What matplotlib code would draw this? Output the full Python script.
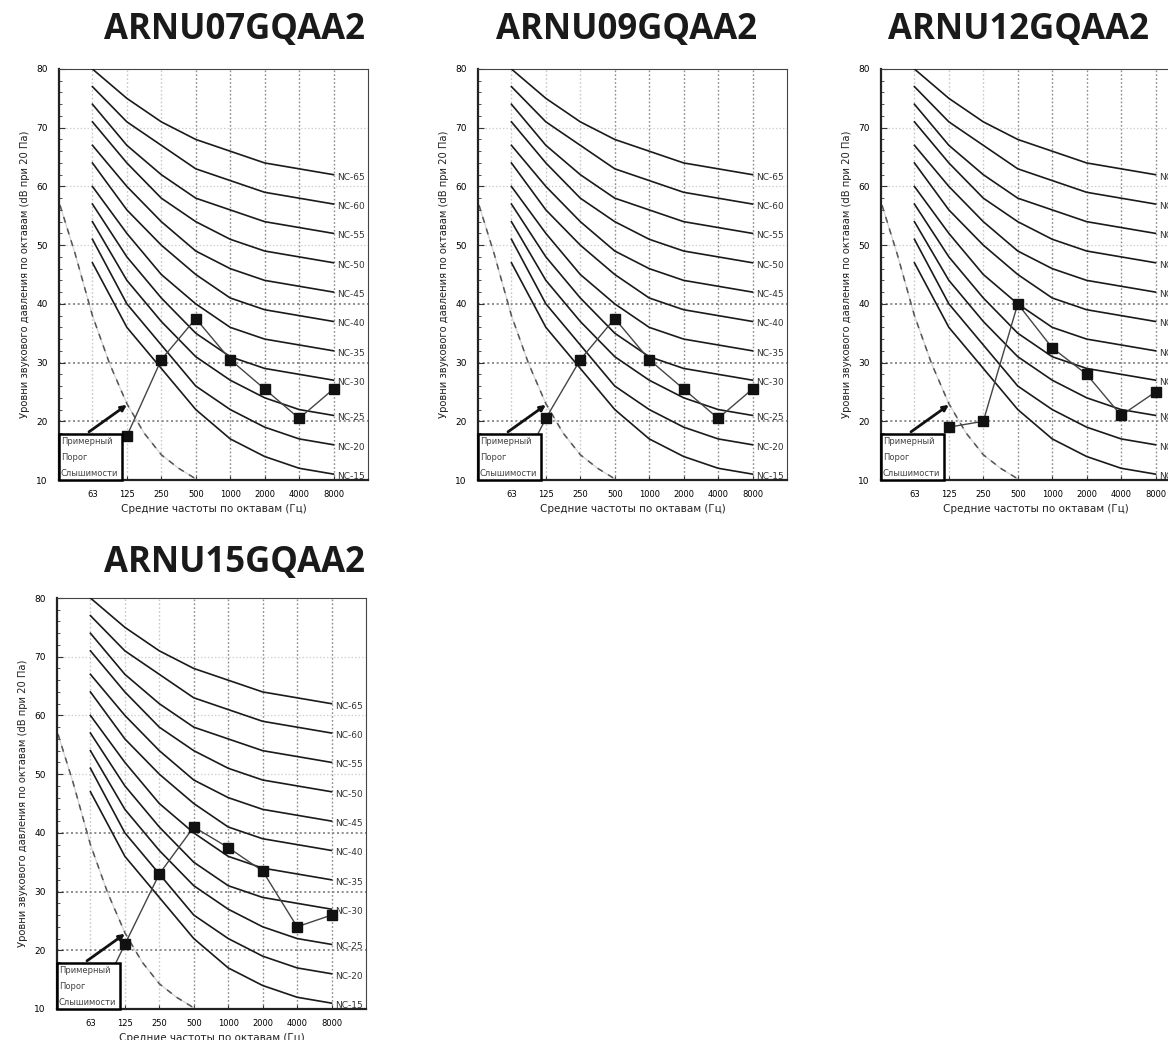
import numpy as np
import matplotlib
matplotlib.use("Agg")
import matplotlib.pyplot as plt
from matplotlib.patches import Rectangle

plt.rcParams['font.family'] = ['Liberation Sans Narrow', 'DejaVu Sans']

# Данные
freqs = ["63", "125", "250", "500", "1000", "2000", "4000", "8000"]
nc_names = ["NC-15", "NC-20", "NC-25", "NC-30", "NC-35", "NC-40",
            "NC-45", "NC-50", "NC-55", "NC-60", "NC-65"]
nc_15 = [47, 36, 29, 22, 17, 14, 12, 11]
nc_20 = [51, 40, 33, 26, 22, 19, 17, 16]
nc_25 = [54, 44, 37, 31, 27, 24, 22, 21]
nc_30 = [57, 48, 41, 35, 31, 29, 28, 27]
nc_35 = [60, 52, 45, 40, 36, 34, 33, 32]
nc_40 = [64, 56, 50, 45, 41, 39, 38, 37]
nc_45 = [67, 60, 54, 49, 46, 44, 43, 42]
nc_50 = [71, 64, 58, 54, 51, 49, 48, 47]
nc_55 = [74, 67, 62, 58, 56, 54, 53, 52]
nc_60 = [77, 71, 67, 63, 61, 59, 58, 57]
nc_65 = [80, 75, 71, 68, 66, 64, 63, 62]
nc_curves = [nc_15, nc_20, nc_25, nc_30, nc_35, nc_40, nc_45, nc_50, nc_55, nc_60, nc_65]

# порог слышимости (позиция октавы, dB)
threshold_x = [-0.94, -0.5, 0, 0.5, 1, 1.5, 2, 2.5, 3]
threshold_y = [56.8, 48.5, 38, 29.8, 23, 18, 14.3, 12, 10.2]

models = ["ARNU07GQAA2", "ARNU09GQAA2", "ARNU12GQAA2", "ARNU15GQAA2"]
arnu07 = [np.nan, 17.5, 30.5, 37.5, 30.5, 25.5, 20.5, 25.5]
arnu09 = [9, 20.5, 30.5, 37.5, 30.5, 25.5, 20.5, 25.5]
arnu12 = [np.nan, 19, 20, 40, 32.5, 28, 21, 25]
arnu15 = [9, 21, 33, 41, 37.5, 33.5, 24, 26]
model_data = [arnu07, arnu09, arnu12, arnu15]

W, H = 1168, 1040
fig = plt.figure(figsize=(W / 100, H / 100), dpi=100)
fig.patch.set_facecolor("white")

# положение осей в пикселях: левый, верхний, правый, нижний
boxes = [(59, 69, 368, 480), (478, 69, 787, 480), (881, 69, 1190, 480), (57, 598, 366, 1009)]
title_pos = [(235, 30), (627, 30), (1018, 30), (235, 563)]

x = np.arange(len(freqs))

for box, tpos, name, vals in zip(boxes, title_pos, models, model_data):
    l, t, r, b = box
    ax = fig.add_axes([l / W, 1 - b / H, (r - l) / W, (b - t) / H])
    ax.set_xlim(-0.97, 8)
    ax.set_ylim(10, 80)

    # сетка
    for i in x:
        c = "#c8c8c8" if i < 3 else "#8a8a8a"
        ax.axvline(i, color=c, ls=(0, (1.2, 1.6)), lw=1.0, zorder=1)
    for yv in [50, 60, 70]:
        ax.axhline(yv, color="#d0d0d0", ls=(0, (1.2, 1.6)), lw=0.9, zorder=1)
    for yv in [20, 30, 40]:
        ax.axhline(yv, color="#7a7a7a", ls=(0, (1.2, 1.6)), lw=1.2, zorder=1)

    # кривые NC
    for nm, cv in zip(nc_names, nc_curves):
        ax.plot(x, cv, color="#1a1a1a", lw=1.2, zorder=3)
        ax.text(7.1, cv[-1] - 0.4, nm, fontsize=6.5, color="#333333",
                va="center", ha="left", zorder=4, clip_on=False)

    # порог слышимости
    ax.plot(threshold_x, threshold_y, color="#d4d4d4", lw=0.9, zorder=2)
    ax.plot(threshold_x, threshold_y, color="#555555", lw=1.1,
            ls=(0, (4, 4)), zorder=2)

    # данные модели
    ax.plot(x, vals, color="#444444", lw=1.0, marker="s", ms=6.5,
            mfc="#111111", mec="#111111", zorder=5)

    # рамка с подписью
    ax.add_patch(Rectangle((-0.97, 10), 1.84, 7.9, facecolor="white",
                           edgecolor="black", lw=1.8, zorder=6, clip_on=False))
    ax.text(-0.92, 13.9, "Примерный\nПорог\nСлышимости", fontsize=6,
            color="#444444", va="center", ha="left", linespacing=2.0, zorder=7)
    ax.annotate("", xy=(1.0, 22.8), xytext=(-0.1, 18.2),
                arrowprops=dict(arrowstyle="-|>", color="#111111", lw=2.0,
                                mutation_scale=8, shrinkA=0, shrinkB=0),
                zorder=7)

    # оси
    ax.set_xticks(x)
    ax.set_xticklabels(freqs, fontsize=6)
    ax.set_yticks(np.arange(10, 81, 10))
    ax.set_yticks(np.arange(10, 81, 2), minor=True)
    ax.tick_params(axis="y", which="major", direction="in", length=4,
                   labelsize=6.5, pad=8, color="#333333")
    ax.tick_params(axis="y", which="minor", direction="in", length=2, color="#333333")
    ax.tick_params(axis="x", direction="in", length=3, labelsize=6, pad=7,
                   color="#333333")
    for s in ["left", "bottom"]:
        ax.spines[s].set_linewidth(1.6)
        ax.spines[s].set_color("#222222")
    for s in ["top", "right"]:
        ax.spines[s].set_linewidth(0.8)
        ax.spines[s].set_color("#444444")
    ax.set_ylabel("Уровни звукового давления по октавам (dB при 20 Па)",
                  fontsize=7.2, color="#222222")
    ax.yaxis.set_label_coords(-0.094, 0.5)
    ax.set_xlabel("Средние частоты по октавам (Гц)", fontsize=7.5,
                  labelpad=4, color="#222222")

    fig.text(tpos[0] / W, 1 - tpos[1] / H, name, fontsize=25, fontweight="bold",
             family="Open Sans", ha="center", va="center", color="#1a1a1a")

fig.savefig("out.png", dpi=100, facecolor="white")
